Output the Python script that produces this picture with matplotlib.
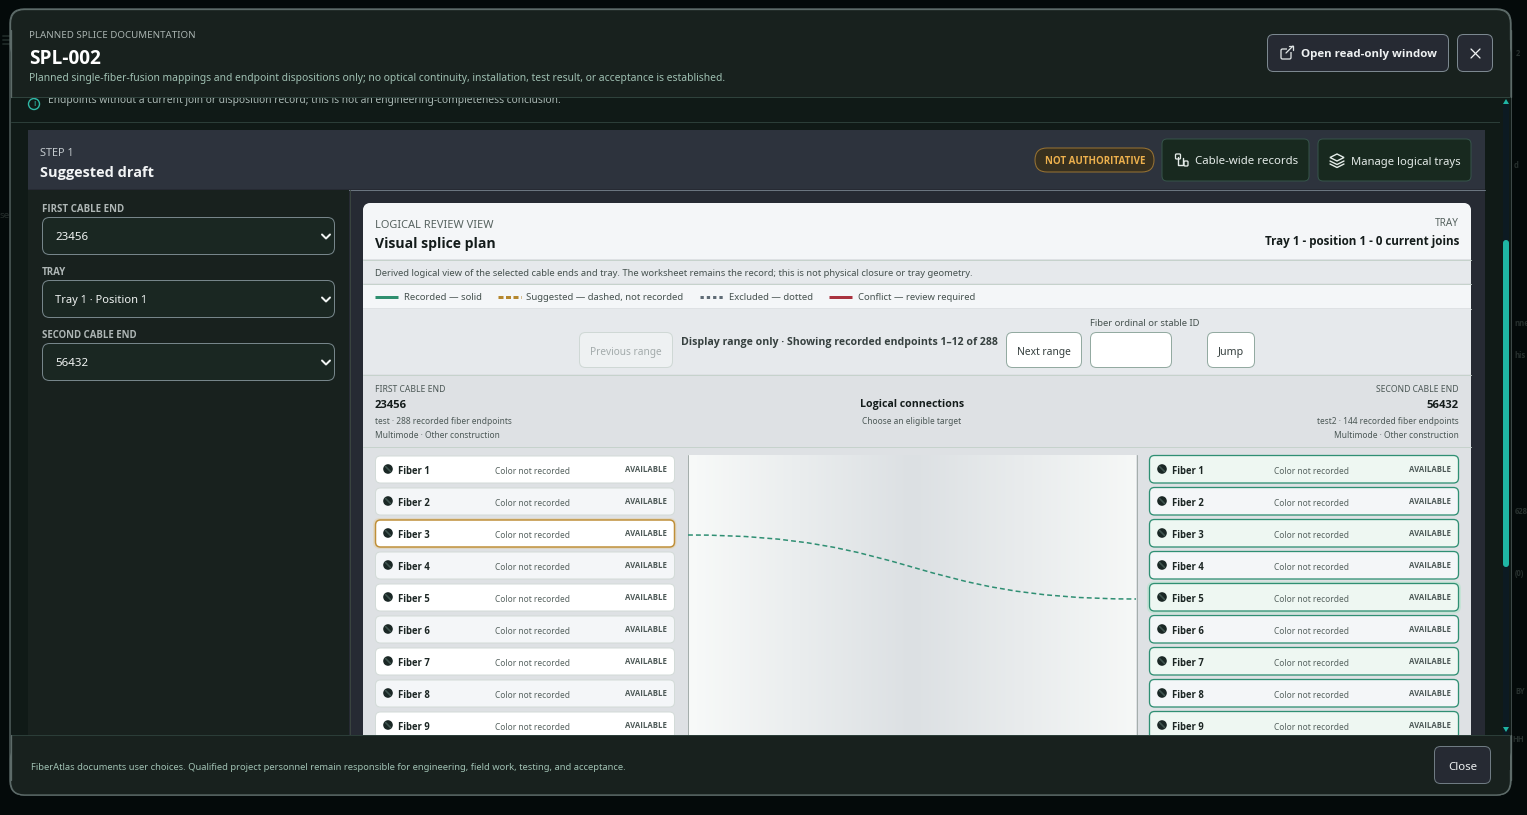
import matplotlib
matplotlib.use("Agg")
import numpy as np
import matplotlib.pyplot as plt
from matplotlib.patches import FancyBboxPatch, Circle, PathPatch, Rectangle, Polygon
from matplotlib.path import Path
from matplotlib.lines import Line2D
from matplotlib.colors import LinearSegmentedColormap

plt.rcParams['font.family'] = ['Noto Sans', 'DejaVu Sans']

# Texts and values of the screen
fibers = ["Fiber 1", "Fiber 2", "Fiber 3", "Fiber 4", "Fiber 5", "Fiber 6", "Fiber 7", "Fiber 8", "Fiber 9"]
fiber_color = "Color not recorded"
fiber_state = "AVAILABLE"
selects = ["23456", "Tray 1 · Position 1", "56432"]
select_widths = [33, 92, 33]
select_labels = ["FIRST CABLE END", "TRAY", "SECOND CABLE END"]
select_label_widths = [82, 24, 94]
legend_labels = ["Recorded — solid", "Suggested — dashed, not recorded", "Excluded — dotted", "Conflict — review required"]
legend_widths = [78, 158, 84, 117]
legend_styles = ["-", (0, (1.67, 0.83)), (0, (1.1, 1)), "-"]
legend_colors = ["#2f8f6f", "#b5872e", "#5f6b75", "#a9323f"]
suggested_from = 2   # Fiber 3 on first cable end
suggested_to = 4     # Fiber 5 on second cable end

W, H = 1527, 815
PX = 0.72  # one pixel in points at dpi 100
fig = plt.figure(figsize=(W / 100, H / 100), dpi=100)
ax = fig.add_axes([0, 0, 1, 1])
ax.set_xlim(0, W)
ax.set_ylim(H, 0)
ax.axis("off")
fig.patch.set_facecolor("#040a0a")
renderer = fig.canvas.get_renderer()

z = [1]
def nz():
    z[0] += 1
    return z[0]

def box(x0, y0, x1, y1, fc, ec="none", r=0, lw=1):
    if r > 0:
        p = FancyBboxPatch((x0 + r, y0 + r), x1 - x0 - 2 * r, y1 - y0 - 2 * r,
                           boxstyle="round,pad=%f,rounding_size=%f" % (r, r),
                           fc=fc, ec=ec, lw=lw * PX, zorder=nz())
    else:
        p = Rectangle((x0, y0), x1 - x0, y1 - y0, fc=fc, ec=ec, lw=lw * PX, zorder=nz())
    ax.add_patch(p)

def txt(x, y, s, size, color, weight="normal", ha="left", w=None):
    # bold text comes from Open Sans, Noto Sans has no bold here
    fam = ['Open Sans', 'DejaVu Sans'] if weight != "normal" else ['Noto Sans', 'DejaVu Sans']
    t = ax.text(x, y + 3, s, fontsize=size, color=color, fontweight=weight, family=fam,
                ha=ha, va="center", zorder=nz())
    if w is not None:
        # scale font so the string takes the width
        cur = t.get_window_extent(renderer).width
        t.set_fontsize(size * w / cur)
    return t

def line(xs, ys, color, lw=1, ls="-", cap="round"):
    l = Line2D(xs, ys, color=color, lw=lw * PX, ls=ls, zorder=nz(), solid_capstyle=cap, dash_capstyle="butt")
    ax.add_line(l)

# Faint page behind the modal
for x, y, s in [(1516, 50, "2"), (1515, 509, "628"), (1515, 571, "(0)"), (1515, 688, "BY"), (1512, 736, "HH"),
                (1514, 163, "d"), (1514, 320, "nne"), (1514, 352, "his")]:
    txt(x, y, s, 5.5, "#27302e", "bold")
txt(0, 212, "se", 7, "#27302e")
line([3, 10], [36, 36], "#1c2624", 2)
line([3, 10], [40, 40], "#1c2624", 2)
line([3, 10], [44, 44], "#1c2624", 2)

# Modal and scrolled body
box(10, 9, 1511, 795, "#101a17", "#5d6b69", r=14, lw=1.3)
line([11, 1505], [121.5, 121.5], "#2b3d38", 1)
txt(48, 97, "Endpoints without a current join or disposition record; this is not an engineering-completeness conclusion.", 7.6, "#a9b7b3", w=516)
ax.add_patch(Circle((34, 104), 5.5, fc="none", ec="#2fb8a6", lw=1, zorder=nz()))
txt(34, 100.5, "i", 6.5, "#2fb8a6", ha="center")

# Step card
box(28, 130, 1485, 760, "#262a33")
box(28, 130, 1485, 189, "#2d333d")
line([28, 1485], [189.5, 189.5], "#6b7580", 1)
box(28, 190, 349, 760, "#18211e")
line([349.5, 349.5], [190, 760], "#39433f", 1)
txt(40, 151, "STEP 1", 6.6, "#c2c8cc", w=34)
txt(40, 170, "Suggested draft", 11.2, "#f2f4f5", "bold", w=114)

# Badge and two buttons in the card header
box(1035, 148, 1154, 172, "#37301f", "#9a7433", r=12)
txt(1095, 159, "NOT AUTHORITATIVE", 6.9, "#edb04d", "bold", ha="center", w=101)
box(1162, 139, 1309, 181, "#18291f", "#36544a", r=5)
txt(1195, 159, "Cable-wide records", 8.8, "#e4ebe8", w=103)
box(1318, 139, 1471, 181, "#18291f", "#36544a", r=5)
txt(1351, 159, "Manage logical trays", 8.8, "#e4ebe8", w=109)
# cable icon
line([1178, 1178, 1183, 1183], [157, 165, 165, 158], "#e4ebe8", 1.4)
box(1175.5, 154, 1180.5, 159, "none", "#e4ebe8", r=1, lw=1.3)
box(1184, 161, 1188, 166, "none", "#e4ebe8", r=1, lw=1.3)
# layers icon
ax.add_patch(Polygon([(1337, 154), (1344, 157.5), (1337, 161), (1330, 157.5)], closed=True, fc="none", ec="#e4ebe8", lw=1, zorder=nz()))
line([1330, 1337, 1344], [161, 164.5, 161], "#e4ebe8", 1.4)
line([1330, 1337, 1344], [164, 167.5, 164], "#e4ebe8", 1.4)

# Left selects
for i in range(3):
    y = 217.5 + i * 63
    txt(42, y - 11, select_labels[i], 6.6, "#aeb6b5", "bold", w=select_label_widths[i])
    box(42.5, y, 334.5, y + 37, "#1a2722", "#76858a", r=7, lw=1)
    txt(55, y + 17.5, selects[i], 9.0, "#f0f3f2", w=select_widths[i])
    line([322, 326, 330], [y + 17, y + 21, y + 17], "#f0f3f2", 2)

# White review panel
box(363, 203, 1471, 760, "#dee1e4", r=8)
box(363, 203, 1471, 259, "#f4f6f8", r=8)
box(363, 215, 1471, 259, "#f4f6f8")
txt(375, 222, "LOGICAL REVIEW VIEW", 6.6, "#56625f", w=118)
txt(375, 241, "Visual splice plan", 11.2, "#141c1b", "bold", w=121)
txt(1459, 221, "TRAY", 7.0, "#56625f", ha="right", w=24)
txt(1459, 239, "Tray 1 - position 1 - 0 current joins", 8.6, "#141c1b", "bold", ha="right", w=194)
box(363, 260, 1471, 283, "#e6e9ec")
line([363, 1471], [259.5, 259.5], "#c6d2cc", 1)
txt(375, 270, "Derived logical view of the selected cable ends and tray. The worksheet remains the record; this is not physical closure or tray geometry.", 6.9, "#46524f", w=598)
box(363, 284, 1471, 308, "#f4f6f8")
line([363, 1471], [283.5, 283.5], "#c6d2cc", 1)
line([363, 1471], [308.5, 308.5], "#c6d2cc", 1)

# Legend
leg_x = [375, 498, 700, 829]
leg_text_x = [404, 526, 729, 858]
for i in range(4):
    line([leg_x[i], leg_x[i] + 23], [296.5, 296.5], legend_colors[i], 3, legend_styles[i], cap="butt")
    txt(leg_text_x[i], 295, legend_labels[i], 6.9, "#46524f", w=legend_widths[i])

# Range controls
box(363, 309, 1471, 374, "#e6e9ec")
line([363, 1471], [374.5, 374.5], "#c6d2cc", 1)
box(579.5, 332.5, 672.5, 367.5, "#eef1f2", "#cfd8d5", r=6)
txt(626, 349, "Previous range", 7.6, "#a3abab", ha="center", w=72)
txt(681, 340, "Display range only · Showing recorded endpoints 1–12 of 288", 8.0, "#36403f", "bold", w=315)
box(1006.5, 332.5, 1081.5, 367.5, "#ffffff", "#93aaa1", r=6)
txt(1044, 349, "Next range", 7.6, "#36403f", ha="center", w=54)
txt(1090, 321, "Fiber ordinal or stable ID", 6.9, "#46524f", w=109)
box(1090.5, 332.5, 1171.5, 367.5, "#ffffff", "#93aaa1", r=6)
box(1207.5, 332.5, 1254.5, 367.5, "#ffffff", "#93aaa1", r=6)
txt(1231, 349, "Jump", 7.6, "#36403f", ha="center", w=26)

# Column heads
txt(375, 386, "FIRST CABLE END", 6.4, "#4c5856", w=70)
txt(375, 403, "23456", 8.4, "#141c1b", "bold", w=32)
txt(375, 418, "test · 288 recorded fiber endpoints", 6.2, "#4c5856", w=137)
txt(375, 432, "Multimode · Other construction", 6.2, "#4c5856", w=125)
txt(912, 402, "Logical connections", 8.4, "#141c1b", "bold", ha="center", w=102)
txt(912, 418, "Choose an eligible target", 6.2, "#4c5856", ha="center", w=99)
txt(1459, 386, "SECOND CABLE END", 6.4, "#4c5856", ha="right", w=82)
txt(1459, 403, "56432", 8.4, "#141c1b", "bold", ha="right", w=32)
txt(1459, 418, "test2 · 144 recorded fiber endpoints", 6.2, "#4c5856", ha="right", w=142)
txt(1459, 432, "Multimode · Other construction", 6.2, "#4c5856", ha="right", w=125)
line([363, 1471], [446.5, 446.5], "#c6d2cc", 1)

# Middle canvas with soft gradient
canvas_cmap = LinearSegmentedColormap.from_list("canvas", ["#f8faf9", "#dce0e3", "#f6f8f7"])
ax.imshow(np.linspace(0, 1, 256).reshape(1, -1), extent=(688, 1136, 760, 455), aspect="auto",
          cmap=canvas_cmap, interpolation="bilinear", zorder=nz())
ax.set_xlim(0, W)
ax.set_ylim(H, 0)
line([687.5, 687.5], [455, 760], "#a5aeac", 1)
line([1136.5, 1136.5], [455, 760], "#a5aeac", 1)

def dot(cx, cy):
    ax.add_patch(Circle((cx, cy), 4.8, fc="#1a2725", ec="none", zorder=nz()))
    line([cx - 3, cx + 3], [cy - 3, cy + 3], "#3f544f", 1.6, cap="butt")

def row_text(x_name, x_color, x_state, cy, i):
    dot(x_name - 10, cy)
    txt(x_name, cy - 1, fibers[i], 7.3, "#1c2624", "bold", w=32)
    txt(x_color, cy - 1, fiber_color, 6.2, "#56625f", w=75)
    txt(x_state, cy - 2, fiber_state, 5.6, "#4c5856", "bold", ha="right", w=41.5)

# Left fiber rows
for i in range(len(fibers)):
    y0 = 456 + i * 32
    fc = "#ffffff" if i % 2 == 0 else "#f4f6f8"
    if i == suggested_from:
        box(373, y0 - 2, 676.5, y0 + 29, "#e0d8c6", r=7)
        box(375.5, y0, 674.5, y0 + 27, "#ffffff", "#bf8f38", r=5, lw=1.5)
    else:
        box(375.5, y0, 674.5, y0 + 27, fc, "#d3dbd8", r=5, lw=1)
    row_text(398, 495, 667, y0 + 13, i)

# Right fiber rows
for i in range(len(fibers)):
    y0 = 455.5 + i * 32
    fc = "#eef7f2" if i % 2 == 0 else "#f4f6f8"
    if i == suggested_to:
        box(1147, y0 - 2, 1461, y0 + 30, "#c5e3d6", r=7)
    box(1149.5, y0, 1458.5, y0 + 27.5, fc, "#2f8f73", r=5, lw=1.3)
    row_text(1172, 1274, 1451, y0 + 13.5, i)

# Suggested connection
ya = 456 + suggested_from * 32 + 15
yb = 456 + suggested_to * 32 + 15
curve = Path([(688, ya), (912, ya), (912, yb), (1136, yb)], [Path.MOVETO, Path.CURVE4, Path.CURVE4, Path.CURVE4])
ax.add_patch(PathPatch(curve, fc="none", ec="#2f8f73", lw=1.1, ls=(0, (3.2, 2)), zorder=nz()))

# Scrollbar
box(1500, 97, 1510.5, 735, "#101a17")
box(1503, 104, 1509, 735, "#0c1a22")
box(1503, 240, 1509, 567, "#1fb5a4", r=3)
ax.add_patch(Polygon([(1503, 104), (1509, 104), (1506, 99)], closed=True, fc="#1fb5a4", ec="none", zorder=nz()))
ax.add_patch(Polygon([(1503, 727), (1509, 727), (1506, 732)], closed=True, fc="#1fb5a4", ec="none", zorder=nz()))

# Top header, covers the scrolled body
box(10.5, 9.5, 1510.5, 60, "#18211e", "#5d6b69", r=14, lw=1.3)
box(11, 40, 1510, 96.5, "#18211e")
line([11, 1510], [96.5, 96.5], "#2f423c", 1)
line([10.5, 10.5], [30, 97], "#5d6b69", 1.3)
line([1510.5, 1510.5], [30, 97], "#5d6b69", 1.3)
txt(29, 32, "PLANNED SPLICE DOCUMENTATION", 6.4, "#a9b3b0", w=165)
txt(29, 56, "SPL-002", 13.2, "#ffffff", "bold", w=72)
txt(29, 76, "Planned single-fiber-fusion mappings and endpoint dispositions only; no optical continuity, installation, test result, or acceptance is established.", 7.7, "#9fc0b2", w=695)
box(1267.5, 34.5, 1448.5, 71.5, "#262a33", "#7c8890", r=6)
txt(1301, 52, "Open read-only window", 8.8, "#eef1f2", "bold", w=136)
box(1281, 49, 1291, 59, "none", "#dfe4e4", r=1.5, lw=1.3)
box(1287, 45, 1294, 52, "#262a33")
line([1286, 1293], [53, 46], "#dfe4e4", 1.3)
line([1289, 1293, 1293], [46, 46, 50], "#dfe4e4", 1.3)
box(1457.5, 34.5, 1492.5, 71.5, "#262a33", "#7c8890", r=6)
line([1471, 1480], [49, 58], "#eef1f2", 1.3)
line([1471, 1480], [58, 49], "#eef1f2", 1.3)

# Footer
box(10.5, 745, 1510.5, 795, "#18211e", "#5d6b69", r=14, lw=1.3)
box(11, 735, 1510, 770, "#18211e")
line([11, 1510], [734.5, 734.5], "#2b3d38", 1)
line([10.5, 10.5], [735, 780], "#5d6b69", 1.3)
line([1510.5, 1510.5], [735, 780], "#5d6b69", 1.3)
txt(31, 764, "FiberAtlas documents user choices. Qualified project personnel remain responsible for engineering, field work, testing, and acceptance.", 6.9, "#9fc0b2", w=593)
box(1434.5, 746.5, 1490.5, 783.5, "#262a33", "#6f7b83", r=6)
txt(1462.5, 764, "Close", 8.8, "#eef1f2", ha="center", w=29)

fig.savefig("out.png", dpi=100, facecolor=fig.get_facecolor())
